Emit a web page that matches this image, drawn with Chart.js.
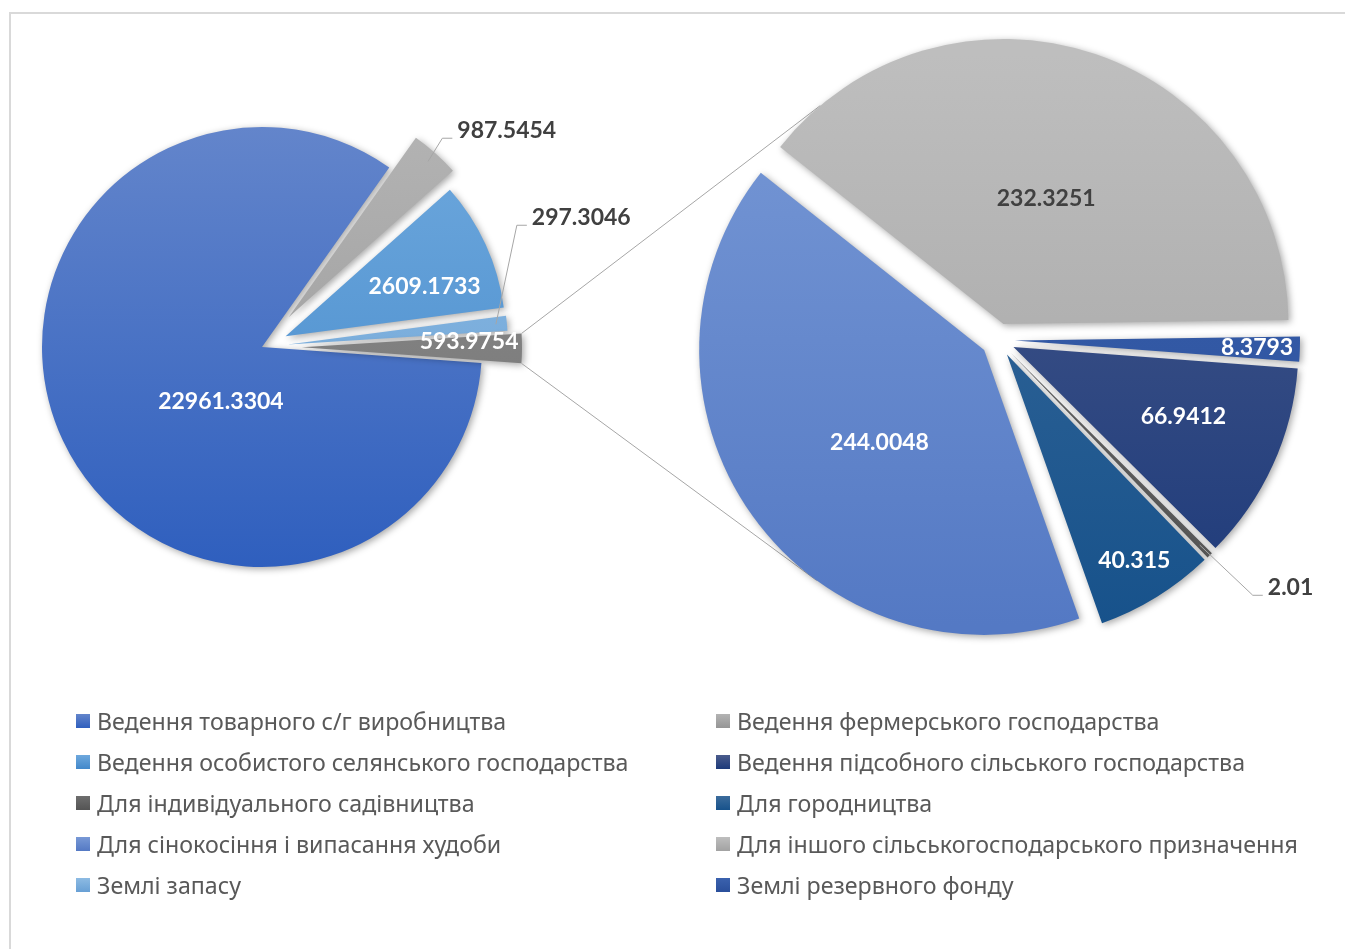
<!DOCTYPE html>
<html>
<head>
<meta charset="utf-8">
<script src="https://cdn.jsdelivr.net/npm/chart.js@4.4.1/dist/chart.umd.min.js"></script>
<style>
  html, body { margin: 0; padding: 0; background: #fff; overflow: hidden; }
  #wrap { position: relative; width: 1345px; height: 949px; }
  #frame { position: absolute; left: 9px; top: 12px; width: 1345px; height: 949px;
           border-left: 2px solid #d9d9d9; border-top: 2px solid #d9d9d9; }
  canvas { position: absolute; left: 0; top: 0; }
  #legend { position: absolute; left: 76px; top: 700px; display: grid;
            grid-template-columns: 640px 640px; grid-auto-rows: 41px;
            font-family: "Noto Sans", "Open Sans", sans-serif; font-size: 23.2px; color: #595959; }
  .item { display: flex; align-items: center; white-space: nowrap; }
  .box { width: 14px; height: 14px; margin-right: 7px; flex: none; }
</style>
</head>
<body>
<div id="wrap">
  <div id="frame"></div>
  <canvas id="mainPie" width="1345" height="949"></canvas>
  <canvas id="detailPie" width="1345" height="949"></canvas>
  <div id="legend"></div>
</div>
<script>
// categories (legend order)
const categories = [
    'Ведення товарного с/г виробництва',
    'Ведення фермерського господарства',
    'Ведення особистого селянського господарства',
    'Ведення підсобного сільського господарства',
    'Для індивідуального садівництва',
    'Для городництва',
    'Для сінокосіння і випасання худоби',
    'Для іншого сільськогосподарського призначення',
    'Землі запасу',
    'Землі резервного фонду'
];
const values = [22961.3304, 987.5454, 2609.1733, 66.9412, 2.01, 40.315, 244.0048, 232.3251, 297.3046, 8.3793];

// which categories go in which pie (in drawing order)
const mainIdx = [0, 1, 2, 8];
const detailIdx = [7, 9, 3, 4, 5, 6];

// slice colours (gradient top / bottom)
const colorTop = ['#6385CB', '#B3B3B3', '#6EA8DD', '#4B5C8C', '#6E6E6E', '#3C6C9C', '#7899D6', '#BEBEBE', '#8DBBE3', '#3B62AE'];
const colorBottom = ['#2F5FBE', '#959595', '#4288CA', '#1D3A7A', '#545454', '#17528B', '#5479C4', '#A2A2A2', '#68A0D5', '#2A4F9B'];
const otherTop = '#8C8C8C', otherBottom = '#737373';

const detailValues = detailIdx.map(i => values[i]);
const otherValue = detailValues.reduce((a, b) => a + b, 0);
const mainValues = mainIdx.map(i => values[i]).concat([otherValue]);

const fmt = v => String(Number(v.toFixed(4)));

function sliceFill(tops, bottoms, radius) {
    return (c) => {
        const area = c.chart.chartArea;
        if (!area) return tops[c.dataIndex];
        const cy = (area.top + area.bottom) / 2;
        const g = c.chart.ctx.createLinearGradient(0, cy - radius, 0, cy + radius);
        g.addColorStop(0, tops[c.dataIndex]);
        g.addColorStop(1, bottoms[c.dataIndex]);
        return g;
    };
}

let mainChart = null;

// explode slices, soft shadow, connector lines and value labels
const pieDecor = {
    id: 'pieDecor',
    afterDatasetUpdate(chart, args, opts) {
        args.meta.data.forEach((arc, i) => {
            const d = opts.explode[i] || 0;
            const mid = (arc.startAngle + arc.endAngle) / 2;
            arc.x += Math.cos(mid) * d;
            arc.y += Math.sin(mid) * d;
        });
    },
    beforeDatasetsDraw(chart, args, opts) {
        const ctx = chart.ctx;
        if (opts.connect && mainChart) {
            // lines from the "other" slice corners to the first and last slice of this pie
            const other = mainChart.getDatasetMeta(0).data[mainValues.length - 1];
            const arcs = chart.getDatasetMeta(0).data;
            const first = arcs[0], last = arcs[arcs.length - 1];
            const targets = [
                [other.startAngle, first, -opts.connect[0]],
                [other.endAngle, last, opts.connect[1]]
            ];
            ctx.save();
            ctx.strokeStyle = '#a6a6a6';
            ctx.lineWidth = 1;
            targets.forEach(([s, el, t]) => {
                const a = t * Math.PI / 180;
                ctx.beginPath();
                ctx.moveTo(other.x + Math.cos(s) * other.outerRadius, other.y + Math.sin(s) * other.outerRadius);
                ctx.lineTo(el.x + Math.cos(a) * el.outerRadius, el.y + Math.sin(a) * el.outerRadius);
                ctx.stroke();
            });
            ctx.restore();
        }
        ctx.save();
        ctx.shadowColor = 'rgba(0,0,0,0.35)';
        ctx.shadowBlur = 7;
        ctx.shadowOffsetX = 2;
        ctx.shadowOffsetY = 2;
    },
    afterDatasetsDraw(chart, args, opts) {
        const ctx = chart.ctx;
        ctx.restore();
        const arcs = chart.getDatasetMeta(0).data;
        const data = chart.data.datasets[0].data;
        ctx.save();
        ctx.font = 'bold 23px Lato, "Noto Sans", sans-serif';
        ctx.textBaseline = 'middle';
        opts.labels.forEach((lb, i) => {
            const el = arcs[i];
            const R = el.outerRadius;
            const text = fmt(data[i]);
            if (lb.out) {
                const mid = (el.startAngle + el.endAngle) / 2;
                const ox = el.x + Math.cos(mid) * R, oy = el.y + Math.sin(mid) * R;
                const sx = el.x + Math.cos(mid) * R * 0.95, sy = el.y + Math.sin(mid) * R * 0.95;
                const ex = ox + lb.dx, ey = oy + lb.dy;
                ctx.strokeStyle = '#a6a6a6';
                ctx.lineWidth = 1;
                ctx.beginPath();
                ctx.moveTo(sx, sy);
                ctx.lineTo(ex, ey);
                ctx.lineTo(ex + 10, ey);
                ctx.stroke();
                ctx.fillStyle = '#404040';
                ctx.textAlign = 'left';
                ctx.fillText(text, ex + 15, ey - 8);
            } else {
                const ang = el.startAngle + lb.f * (el.endAngle - el.startAngle);
                ctx.fillStyle = lb.color || '#ffffff';
                ctx.textAlign = 'center';
                ctx.fillText(text, el.x + Math.cos(ang) * R * lb.r, el.y + Math.sin(ang) * R * lb.r);
            }
        });
        ctx.restore();
    }
};

const mainRadius = 220, detailRadius = 285;

mainChart = new Chart(document.getElementById('mainPie'), {
    type: 'pie',
    data: {
        labels: mainIdx.map(i => categories[i]).concat(['Інше']),
        datasets: [{
            data: mainValues,
            backgroundColor: sliceFill(mainIdx.map(i => colorTop[i]).concat([otherTop]),
                                       mainIdx.map(i => colorBottom[i]).concat([otherBottom]), mainRadius),
            borderWidth: 0,
            rotation: 94.2,
            radius: mainRadius
        }]
    },
    options: {
        responsive: false,
        animation: false,
        events: [],
        layout: { padding: { left: 0, right: 821, top: 0, bottom: 255 } },
        plugins: {
            legend: { display: false },
            tooltip: { enabled: false },
            pieDecor: {
                explode: [0, 40, 26, 26, 40],
                connect: null,
                labels: [
                    { f: 0.408, r: 0.31 },
                    { out: true, dx: 7, dy: -15 },
                    { f: 0.65, r: 0.67 },
                    { out: true, dx: 10, dy: -98 },
                    { f: 0.2, r: 0.76 }
                ]
            }
        }
    },
    plugins: [pieDecor]
});

new Chart(document.getElementById('detailPie'), {
    type: 'pie',
    data: {
        labels: detailIdx.map(i => categories[i]),
        datasets: [{
            data: detailValues,
            backgroundColor: sliceFill(detailIdx.map(i => colorTop[i]), detailIdx.map(i => colorBottom[i]), detailRadius),
            borderWidth: 0,
            rotation: -51.6,
            radius: detailRadius
        }]
    },
    options: {
        responsive: false,
        animation: false,
        events: [],
        layout: { padding: { left: 651, right: 0, top: 0, bottom: 269 } },
        plugins: {
            legend: { display: false },
            tooltip: { enabled: false },
            pieDecor: {
                explode: [17, 17, 17, 17, 17, 17],
                connect: [130, 126],
                labels: [
                    { f: 0.5, r: 0.465, color: '#404040' },
                    { f: 0.5, r: 0.85 },
                    { f: 0.446, r: 0.645 },
                    { out: true, dx: 43, dy: 40 },
                    { f: 0.5, r: 0.85 },
                    { f: 0.46, r: 0.49 }
                ]
            }
        }
    },
    plugins: [pieDecor]
});

// legend, two columns, row by row
const legend = document.getElementById('legend');
categories.forEach((name, i) => {
    const item = document.createElement('div');
    item.className = 'item';
    const box = document.createElement('span');
    box.className = 'box';
    box.style.background = 'linear-gradient(' + colorTop[i] + ', ' + colorBottom[i] + ')';
    const label = document.createElement('span');
    label.textContent = name;
    item.appendChild(box);
    item.appendChild(label);
    legend.appendChild(item);
});
</script>
</body>
</html>
